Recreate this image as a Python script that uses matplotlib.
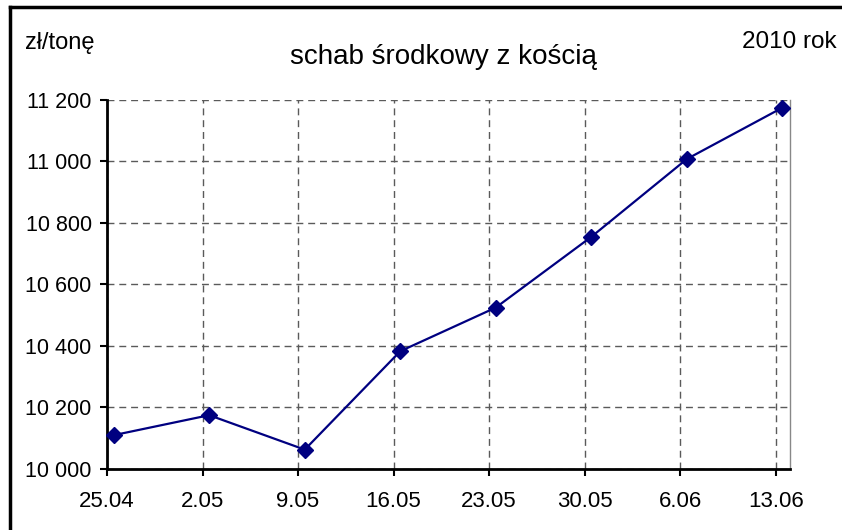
import numpy as np
import matplotlib.pyplot as plt
from matplotlib.lines import Line2D
from matplotlib.ticker import FuncFormatter

plt.rcParams['font.family'] = ['Liberation Sans', 'DejaVu Sans']

# weekly prices, zl/tonne
dates = ['25.04', '2.05', '9.05', '16.05', '23.05', '30.05', '6.06', '13.06']
prices = [10110, 10175, 10063, 10383, 10525, 10755, 11008, 11175]
yticks = [10000, 10200, 10400, 10600, 10800, 11000, 11200]

fig = plt.figure(figsize=(8.42, 5.30), dpi=100)
ax = fig.add_axes([107/842, 1 - 469/530, 683/842, 369/530])

x = np.arange(len(dates))
ax.plot(x + 0.07, prices, color='#000080', lw=1.6, marker='D', ms=8.5,
        zorder=5, clip_on=False)

ax.set_xlim(0, 7.15)
ax.set_ylim(10000, 11200)
ax.set_xticks(x)
ax.set_xticklabels(dates)
ax.set_yticks(yticks)
ax.yaxis.set_major_formatter(FuncFormatter(lambda v, p: f'{int(v):,}'.replace(',', ' ')))

ax.grid(True, color='#5a5a5a', ls=(0, (5, 3.5)), lw=1)
ax.tick_params(axis='both', length=5, width=1.5, color='black')
ax.tick_params(axis='x', labelsize=16, pad=11)
ax.tick_params(axis='y', labelsize=15.5, pad=6)

ax.spines['top'].set_visible(False)
ax.spines['right'].set_color('#888888')
ax.spines['right'].set_linewidth(1)
ax.spines['left'].set_linewidth(2)
ax.spines['bottom'].set_linewidth(2)

fig.text(25/842, 1 - 49/530, 'zł/tonę', fontsize=17, ha='left', va='baseline')
fig.text(837/842, 1 - 48.5/530, '2010 rok', fontsize=17.5, ha='right', va='baseline')
fig.text(443/842, 1 - 64/530, 'schab środkowy z kością', fontsize=20,
         ha='center', va='baseline')

# outer frame (top and left edges visible)
fig.add_artist(Line2D([10/842, 1], [1 - 7/530, 1 - 7/530], color='black', lw=2.5))
fig.add_artist(Line2D([10/842, 10/842], [0, 1 - 7/530], color='black', lw=2.5))

fig.savefig('out.png', dpi=100)
